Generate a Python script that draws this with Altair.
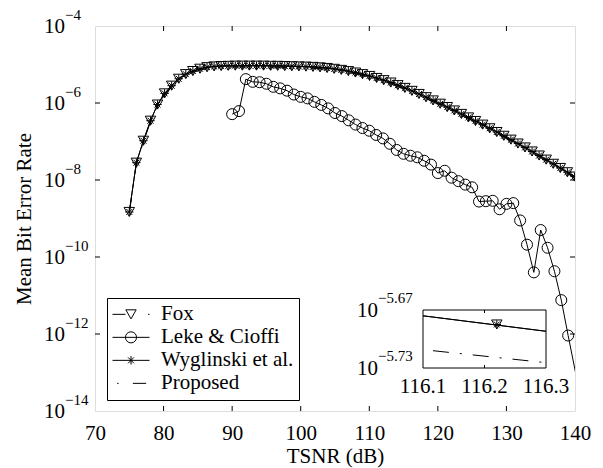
import altair as alt
import pandas as pd

FONT = "Liberation Serif"
W, H = 480, 385

SERIES = ["Fox", "Leke & Cioffi", "Wyglinski et al.", "Proposed"]

# common TSNR grid of Fox / Wyglinski / Proposed (dB)
GRID_TSNR = [75.00, 76.03, 77.06, 78.09, 79.12, 80.15, 81.18, 82.21, 83.24, 84.27,
             85.31, 86.34, 87.37, 88.40, 89.43, 90.46, 91.49, 92.52, 93.55, 94.58,
             95.61, 96.64, 97.67, 98.70, 99.73, 100.76, 101.79, 102.82, 103.85, 104.88,
             105.92, 106.95, 107.98, 109.01, 110.04, 111.07, 112.10, 113.13, 114.16, 115.19,
             116.22, 117.25, 118.28, 119.31, 120.34, 121.37, 122.40, 123.43, 124.46, 125.49,
             126.53, 127.56, 128.59, 129.62, 130.65, 131.68, 132.71, 133.74, 134.77, 135.80,
             136.83, 137.86, 138.89, 139.92]
# log10 of mean BER
FOX_EXP = [-8.83, -7.55, -6.98, -6.46, -6.04, -5.75, -5.55, -5.37, -5.25, -5.17,
           -5.11, -5.07, -5.05, -5.04, -5.035, -5.03, -5.03, -5.03, -5.03, -5.03,
           -5.035, -5.035, -5.04, -5.045, -5.05, -5.055, -5.062, -5.074, -5.091, -5.113,
           -5.140, -5.172, -5.209, -5.251, -5.298, -5.350, -5.407, -5.469, -5.536, -5.608,
           -5.685, -5.766, -5.849, -5.933, -6.019, -6.106, -6.194, -6.284, -6.375, -6.468,
           -6.562, -6.657, -6.754, -6.852, -6.952, -7.053, -7.155, -7.259, -7.364, -7.471,
           -7.579, -7.688, -7.799, -7.911]
WYG_EXP = [-8.83, -7.55, -6.98, -6.46, -6.04, -5.75, -5.55, -5.37, -5.25, -5.17,
           -5.11, -5.07, -5.05, -5.04, -5.035, -5.03, -5.03, -5.03, -5.03, -5.03,
           -5.035, -5.035, -5.04, -5.045, -5.05, -5.055, -5.062, -5.074, -5.091, -5.113,
           -5.140, -5.172, -5.209, -5.251, -5.298, -5.350, -5.407, -5.469, -5.536, -5.608,
           -5.685, -5.766, -5.849, -5.933, -6.019, -6.106, -6.194, -6.284, -6.375, -6.468,
           -6.562, -6.657, -6.754, -6.852, -6.952, -7.053, -7.155, -7.259, -7.364, -7.471,
           -7.579, -7.688, -7.799, -7.911]
PROP_EXP = [-8.86, -7.58, -7.01, -6.49, -6.07, -5.785, -5.585, -5.405, -5.285, -5.205,
            -5.145, -5.105, -5.085, -5.075, -5.07, -5.065, -5.065, -5.065, -5.065, -5.065,
            -5.07, -5.07, -5.075, -5.08, -5.085, -5.09, -5.097, -5.109, -5.126, -5.148,
            -5.175, -5.207, -5.244, -5.286, -5.333, -5.385, -5.442, -5.504, -5.571, -5.643,
            -5.720, -5.801, -5.884, -5.968, -6.054, -6.141, -6.229, -6.319, -6.410, -6.503,
            -6.597, -6.692, -6.789, -6.887, -6.987, -7.088, -7.190, -7.294, -7.399, -7.506,
            -7.614, -7.723, -7.834, -7.946]

LEKE_TSNR = [90, 91, 92, 93, 94, 95, 96, 97, 98, 99,
             100, 101, 102, 103, 104, 105, 106, 107, 108, 109,
             110, 111, 112, 113, 114, 115, 116, 117, 118, 119,
             120, 121, 122, 123, 124, 125, 126, 127, 128, 129,
             130, 131, 132, 133, 134, 135, 136, 137, 138, 139,
             140.3]
LEKE_EXP = [-6.29, -6.21, -5.38, -5.45, -5.46, -5.50, -5.58, -5.62, -5.68, -5.78,
            -5.84, -5.88, -5.97, -6.05, -6.14, -6.26, -6.34, -6.45, -6.56, -6.65,
            -6.72, -6.83, -6.92, -7.06, -7.22, -7.32, -7.37, -7.41, -7.50, -7.60,
            -7.82, -7.76, -7.94, -8.03, -8.12, -8.19, -8.56, -8.55, -8.54, -8.76,
            -8.62, -8.60, -9.05, -9.68, -10.40, -9.30, -9.76, -10.37, -11.12, -12.04,
            -13.20]

X_TICKS = [70, 80, 90, 100, 110, 120, 130, 140]
Y_TICK_EXP = [-4, -6, -8, -10, -12, -14]

# inset (zoom around 116.2 dB)
INSET_X_TICKS = [116.1, 116.2, 116.3]
INSET_Y_TICK_EXP = [-5.67, -5.73]
INSET_LINE_TSNR = [116.1, 116.3]
INSET_FOX_EXP = [-5.676, -5.692]
INSET_PROP_EXP = [-5.711, -5.7245]
INSET_MARK_TSNR = [116.22]
INSET_MARK_EXP = [-5.685]

DASHDOT = [16, 11, 2, 11]

# ---------------------------------------------------------------- tables
rows = []
for name, xs, es in [("Fox", GRID_TSNR, FOX_EXP), ("Leke & Cioffi", LEKE_TSNR, LEKE_EXP),
                     ("Wyglinski et al.", GRID_TSNR, WYG_EXP), ("Proposed", GRID_TSNR, PROP_EXP)]:
    for x, e in zip(xs, es):
        rows.append({"series": name, "tsnr": x, "ber": 10.0 ** e})
df = pd.DataFrame(rows)

xscale = alt.Scale(domain=[X_TICKS[0], X_TICKS[-1]], nice=False, zero=False)
yscale = alt.Scale(type="log", domain=[10.0 ** Y_TICK_EXP[-1], 10.0 ** Y_TICK_EXP[0]], nice=False)

x_axis = alt.Axis(values=X_TICKS, labelFont=FONT, labelFontSize=21, labelColor="black",
                  labelBaseline="alphabetic", labelPadding=28, labelFlush=False, labelOverlap=False,
                  ticks=False, tickSize=0, domain=False, grid=False,
                  title="TSNR (dB)", titleFont=FONT, titleFontSize=21, titleFontWeight="normal",
                  titleColor="black", titleBaseline="alphabetic", titleAlign="center",
                  titleX=W / 2, titleY=51)
y_axis = alt.Axis(labels=False, ticks=False, tickSize=0, domain=False, grid=False,
                  title="Mean Bit Error Rate", titleFont=FONT, titleFontSize=21,
                  titleFontWeight="normal", titleColor="black", titleAngle=270,
                  titleBaseline="middle", titleAlign="center", titleX=-71, titleY=H / 2)


def X(field="tsnr"):
    return alt.X(f"{field}:Q", scale=xscale, axis=x_axis)


def Y(field="ber"):
    return alt.Y(f"{field}:Q", scale=yscale, axis=y_axis)


solid_lines = alt.Chart(df).transform_filter(alt.datum.series != "Proposed").mark_line(
    color="black", strokeWidth=1, clip=True).encode(x=X(), y=Y(), detail="series:N")
prop_line = alt.Chart(df).transform_filter(alt.datum.series == "Proposed").mark_line(
    color="black", strokeWidth=1, strokeDash=DASHDOT, clip=True).encode(x=X(), y=Y())

ASTERISK = "M0,-1L0,1M-1,0L1,0M-0.71,-0.71L0.71,0.71M-0.71,0.71L0.71,-0.71"

# markers are only drawn for points inside the axes (as the original does)
inside = alt.datum.tsnr <= X_TICKS[-1]
fox_pts = alt.Chart(df).transform_filter(alt.datum.series == "Fox").mark_point(
    shape="triangle-down", size=110, filled=False, color="black", strokeWidth=1, opacity=1, clip=True
).encode(x=X(), y=Y())
leke_pts = alt.Chart(df).transform_filter(alt.datum.series == "Leke & Cioffi").transform_filter(
    inside).mark_point(
    shape="circle", size=121, filled=False, color="black", strokeWidth=1, opacity=1, clip=True
).encode(x=X(), y=Y())
wyg_pts = alt.Chart(df).transform_filter(alt.datum.series == "Wyglinski et al.").mark_point(
    shape=ASTERISK, size=70, filled=False, color="black", strokeWidth=1, opacity=1, clip=True
).encode(x=X(), y=Y())

# legend symbols: line sample with the marker in its middle
LEG_SHAPES = [
    "M-1,0L-0.3,0M-0.28,-0.245L0.28,-0.245L0,0.245L-0.28,-0.245M0.92,0L1,0",
    "M-1,0L1,0M0.3,0A0.3,0.3,0,1,1,-0.3,0A0.3,0.3,0,1,1,0.3,0",
    "M-1,0L1,0M0,-0.23L0,0.23M-0.16,-0.16L0.16,0.16M-0.16,0.16L0.16,-0.16",
    "M-0.75,0L-0.67,0M0.1,0L0.82,0",
]
legend_layer = alt.Chart(pd.DataFrame({"method": SERIES})).mark_point(
    filled=False, color="black", opacity=0
).encode(
    shape=alt.Shape("method:N", scale=alt.Scale(domain=SERIES, range=LEG_SHAPES),
                    legend=alt.Legend(title=None, orient="none", legendX=12, legendY=272,
                                      labelFont=FONT, labelFontSize=21, labelColor="black",
                                      labelExpr="datum.label + '\u00a0\u00a0'",
                                      symbolSize=1369, symbolStrokeWidth=1,
                                      symbolStrokeColor="black", symbolFillColor="transparent",
                                      strokeColor="black", fillColor="white",
                                      padding=5, rowPadding=0, clipHeight=22.7, labelOffset=11,
                                      labelLimit=400))
)

# inward ticks on all four sides
xt = pd.DataFrame({"tsnr": X_TICKS[1:-1]})
yt = pd.DataFrame({"ber": [10.0 ** e for e in Y_TICK_EXP[1:-1]]})
tick_b = alt.Chart(xt).mark_rule(color="black").encode(x=X(), y=alt.value(H), y2=alt.value(H - 5))
tick_t = alt.Chart(xt).mark_rule(color="black").encode(x=X(), y=alt.value(0), y2=alt.value(5))
tick_l = alt.Chart(yt).mark_rule(color="black").encode(y=Y(), x=alt.value(0), x2=alt.value(5))
tick_r = alt.Chart(yt).mark_rule(color="black").encode(y=Y(), x=alt.value(W), x2=alt.value(W - 5))

# y tick labels 10^{-n}
ylab = pd.DataFrame({"ber": [10.0 ** e for e in Y_TICK_EXP], "base": ["10"] * len(Y_TICK_EXP),
                     "exp": ["\u2212" + str(-e) for e in Y_TICK_EXP]})
ylab_base = alt.Chart(ylab).mark_text(font=FONT, fontSize=21, color="black", align="left",
                                      baseline="alphabetic", dy=7).encode(
    y=Y(), x=alt.value(-51), text="base:N")
ylab_exp = alt.Chart(ylab).mark_text(font=FONT, fontSize=15, color="black", align="left",
                                     baseline="alphabetic", dy=-6).encode(
    y=Y(), x=alt.value(-30), text="exp:N")

main = alt.layer(solid_lines, prop_line, fox_pts, leke_pts, wyg_pts,
                 tick_b, tick_t, tick_l, tick_r, ylab_base, ylab_exp, legend_layer)

# ---------------------------------------------------------------- inset
ix = alt.Scale(domain=[INSET_X_TICKS[0], INSET_X_TICKS[-1]], range=[328, 451], nice=False, zero=False)
iy = alt.Scale(type="log", domain=[10.0 ** INSET_Y_TICK_EXP[-1], 10.0 ** INSET_Y_TICK_EXP[0]],
               range=[342, 284], nice=False)


def IX(field="tsnr"):
    return alt.X(f"{field}:Q", scale=ix, axis=None)


def IY(field="ber"):
    return alt.Y(f"{field}:Q", scale=iy, axis=None)


frame_df = pd.DataFrame({"tsnr": [INSET_X_TICKS[0]], "tsnr2": [INSET_X_TICKS[-1]],
                         "ber": [10.0 ** INSET_Y_TICK_EXP[-1]], "ber2": [10.0 ** INSET_Y_TICK_EXP[0]]})
inset_frame = alt.Chart(frame_df).mark_rect(fill="white", stroke="black", strokeWidth=1).encode(
    x=IX(), x2="tsnr2:Q", y=IY(), y2="ber2:Q")

irows = []
for name, es in [("Fox", INSET_FOX_EXP), ("Wyglinski et al.", INSET_FOX_EXP), ("Proposed", INSET_PROP_EXP)]:
    for x, e in zip(INSET_LINE_TSNR, es):
        irows.append({"series": name, "tsnr": x, "ber": 10.0 ** e})
idf = pd.DataFrame(irows)
inset_solid = alt.Chart(idf).transform_filter(alt.datum.series != "Proposed").mark_line(
    color="black", strokeWidth=1).encode(x=IX(), y=IY(), detail="series:N")
inset_prop = alt.Chart(idf).transform_filter(alt.datum.series == "Proposed").mark_line(
    color="black", strokeWidth=1, strokeDash=DASHDOT, strokeDashOffset=30).encode(x=IX(), y=IY())
imark = pd.DataFrame({"tsnr": INSET_MARK_TSNR, "ber": [10.0 ** e for e in INSET_MARK_EXP]})
inset_tri = alt.Chart(imark).mark_point(shape="triangle-down", size=110, filled=False, color="black",
                                        strokeWidth=1, opacity=1).encode(x=IX(), y=IY())
inset_ast = alt.Chart(imark).mark_point(shape=ASTERISK, size=70, filled=False, color="black",
                                        strokeWidth=1, opacity=1).encode(x=IX(), y=IY())

ixt = pd.DataFrame({"tsnr": INSET_X_TICKS[1:-1]})
itick_b = alt.Chart(ixt).mark_rule(color="black").encode(x=IX(), y=alt.value(342), y2=alt.value(339))
itick_t = alt.Chart(ixt).mark_rule(color="black").encode(x=IX(), y=alt.value(284), y2=alt.value(287))

ixl = pd.DataFrame({"tsnr": INSET_X_TICKS, "lab": [f"{v:.1f}" for v in INSET_X_TICKS]})
inset_xlab = alt.Chart(ixl).mark_text(font=FONT, fontSize=21, color="black", align="center",
                                      baseline="alphabetic").encode(
    x=IX(), y=alt.value(367), text="lab:N")
iyl = pd.DataFrame({"ber": [10.0 ** e for e in INSET_Y_TICK_EXP], "base": ["10"] * 2,
                    "exp": ["\u2212" + f"{-e:.2f}" for e in INSET_Y_TICK_EXP]})
inset_ybase = alt.Chart(iyl).mark_text(font=FONT, fontSize=21, color="black", align="left",
                                       baseline="alphabetic", dy=7).encode(
    y=IY(), x=alt.value(262), text="base:N")
inset_yexp = alt.Chart(iyl).mark_text(font=FONT, fontSize=15, color="black", align="left",
                                      baseline="alphabetic", dy=-7).encode(
    y=IY(), x=alt.value(283), text="exp:N")

inset = alt.layer(inset_frame, inset_solid, inset_prop, inset_tri, inset_ast, itick_b, itick_t,
                  inset_xlab, inset_ybase, inset_yexp)

chart = alt.layer(main, inset).resolve_scale(x="independent", y="independent").properties(
    width=W, height=H,
    autosize=alt.AutoSizeParams(type="none"),
    padding={"left": 87, "top": 18, "right": 20, "bottom": 57},
    background="white",
).configure_view(stroke="black", strokeWidth=1).configure(font=FONT)

chart.save("out.html", embed_options={"renderer": "svg", "actions": False})
